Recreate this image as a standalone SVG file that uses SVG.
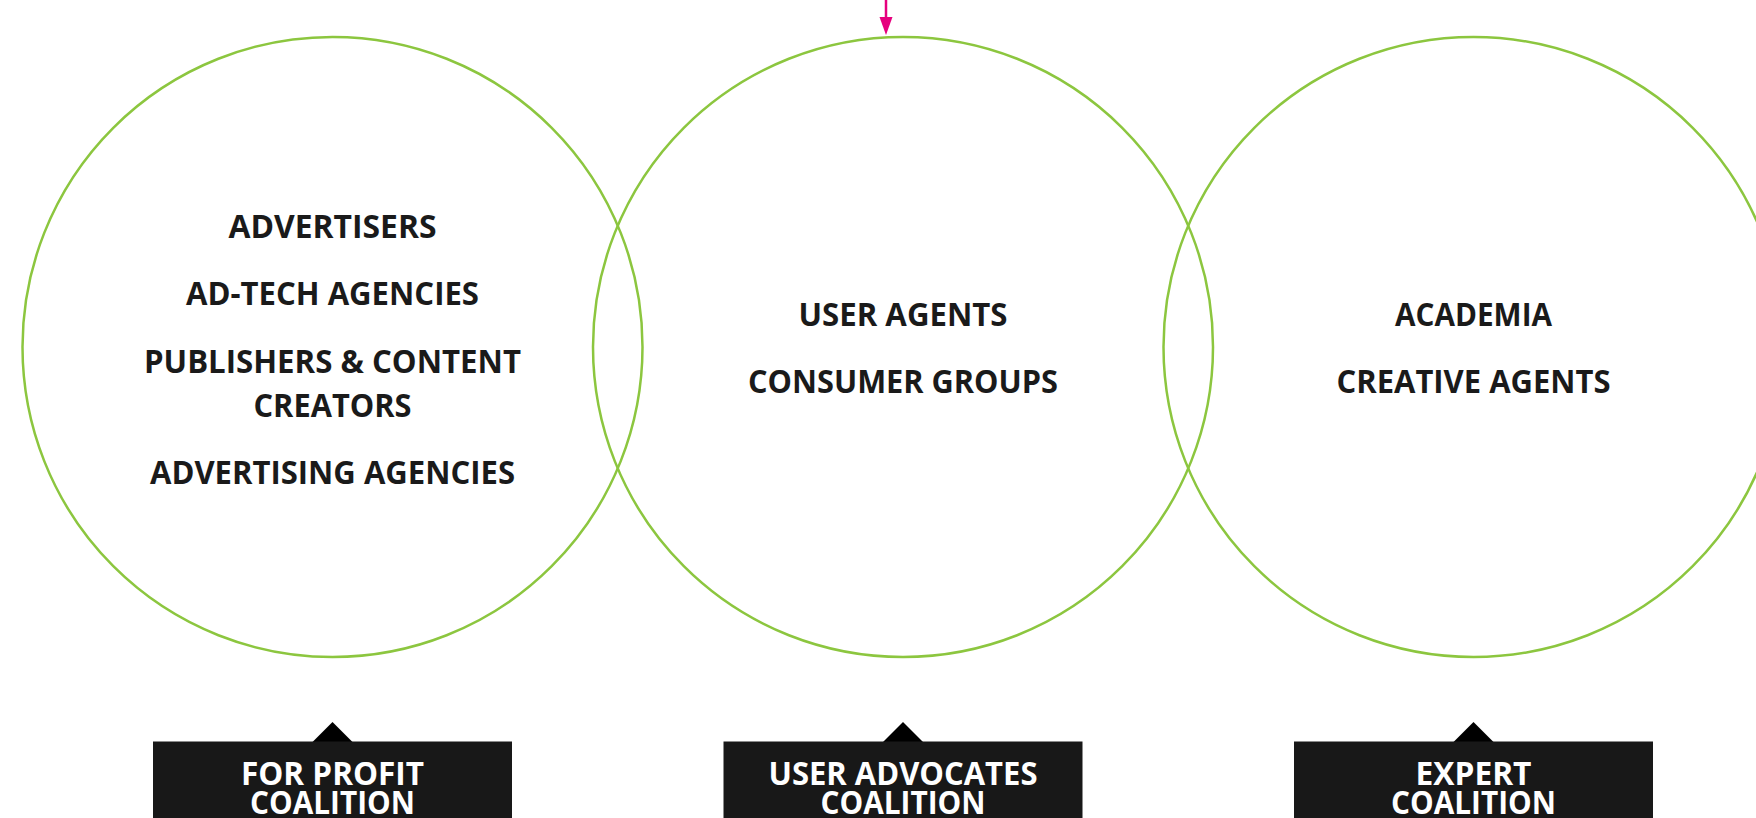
<svg xmlns="http://www.w3.org/2000/svg" width="1756" height="818" viewBox="0 0 1756 818">
  <style>
    .ring { fill: none; stroke: #8cc63f; stroke-width: 2.5; }
    .item { font-family: "Open Sans", "Liberation Sans", sans-serif; font-weight: 700; font-size: 33px; fill: #1a1a1a; text-anchor: middle; }
    .tag-box { fill: #181818; }
    .tag-tip { fill: #000; }
    .tag-text { font-family: "Open Sans", "Liberation Sans", sans-serif; font-weight: 700; font-size: 33px; fill: #fff; text-anchor: middle; }
    .link { stroke: #e6007e; stroke-width: 2.5; fill: none; }
  </style>
  <rect width="1756" height="818" fill="#fff"/>

  <g id="connectors">
    <line class="link" x1="886" y1="0" x2="886" y2="17"/>
    <path d="M879.5,17 L892.5,17 L886,35 Z" fill="#e6007e"/>
  </g>

  <g id="for-profit">
    <circle class="ring" cx="332.5" cy="347" r="310"/>
    <text class="item" x="332.5" y="238" textLength="208" lengthAdjust="spacingAndGlyphs">ADVERTISERS</text>
    <text class="item" x="332.5" y="305" textLength="293" lengthAdjust="spacingAndGlyphs">AD-TECH AGENCIES</text>
    <text class="item" x="332.5" y="373" textLength="377" lengthAdjust="spacingAndGlyphs">PUBLISHERS &amp; CONTENT</text>
    <text class="item" x="332.5" y="417" textLength="158" lengthAdjust="spacingAndGlyphs">CREATORS</text>
    <text class="item" x="332.5" y="484" textLength="365" lengthAdjust="spacingAndGlyphs">ADVERTISING AGENCIES</text>
  </g>

  <g id="user-advocates">
    <circle class="ring" cx="903" cy="347" r="310"/>
    <text class="item" x="903" y="326" textLength="209" lengthAdjust="spacingAndGlyphs">USER AGENTS</text>
    <text class="item" x="903" y="393" textLength="310" lengthAdjust="spacingAndGlyphs">CONSUMER GROUPS</text>
  </g>

  <g id="expert">
    <circle class="ring" cx="1473.5" cy="347" r="310"/>
    <text class="item" x="1473.5" y="326" textLength="157" lengthAdjust="spacingAndGlyphs">ACADEMIA</text>
    <text class="item" x="1473.5" y="393" textLength="274" lengthAdjust="spacingAndGlyphs">CREATIVE AGENTS</text>
  </g>

  <g id="tag-for-profit">
    <polygon class="tag-tip" points="312.5,742 332.5,722 352.5,742"/>
    <rect class="tag-box" x="153" y="741.5" width="359" height="77"/>
    <text class="tag-text" x="332.5" y="785" textLength="183" lengthAdjust="spacingAndGlyphs">FOR PROFIT</text>
    <text class="tag-text" x="332.5" y="814" textLength="165" lengthAdjust="spacingAndGlyphs">COALITION</text>
  </g>

  <g id="tag-user-advocates">
    <polygon class="tag-tip" points="883,742 903,722 923,742"/>
    <rect class="tag-box" x="723.5" y="741.5" width="359" height="77"/>
    <text class="tag-text" x="903" y="785" textLength="269" lengthAdjust="spacingAndGlyphs">USER ADVOCATES</text>
    <text class="tag-text" x="903" y="814" textLength="165" lengthAdjust="spacingAndGlyphs">COALITION</text>
  </g>

  <g id="tag-expert">
    <polygon class="tag-tip" points="1453.5,742 1473.5,722 1493.5,742"/>
    <rect class="tag-box" x="1294" y="741.5" width="359" height="77"/>
    <text class="tag-text" x="1473.5" y="785" textLength="116" lengthAdjust="spacingAndGlyphs">EXPERT</text>
    <text class="tag-text" x="1473.5" y="814" textLength="165" lengthAdjust="spacingAndGlyphs">COALITION</text>
  </g>
</svg>
